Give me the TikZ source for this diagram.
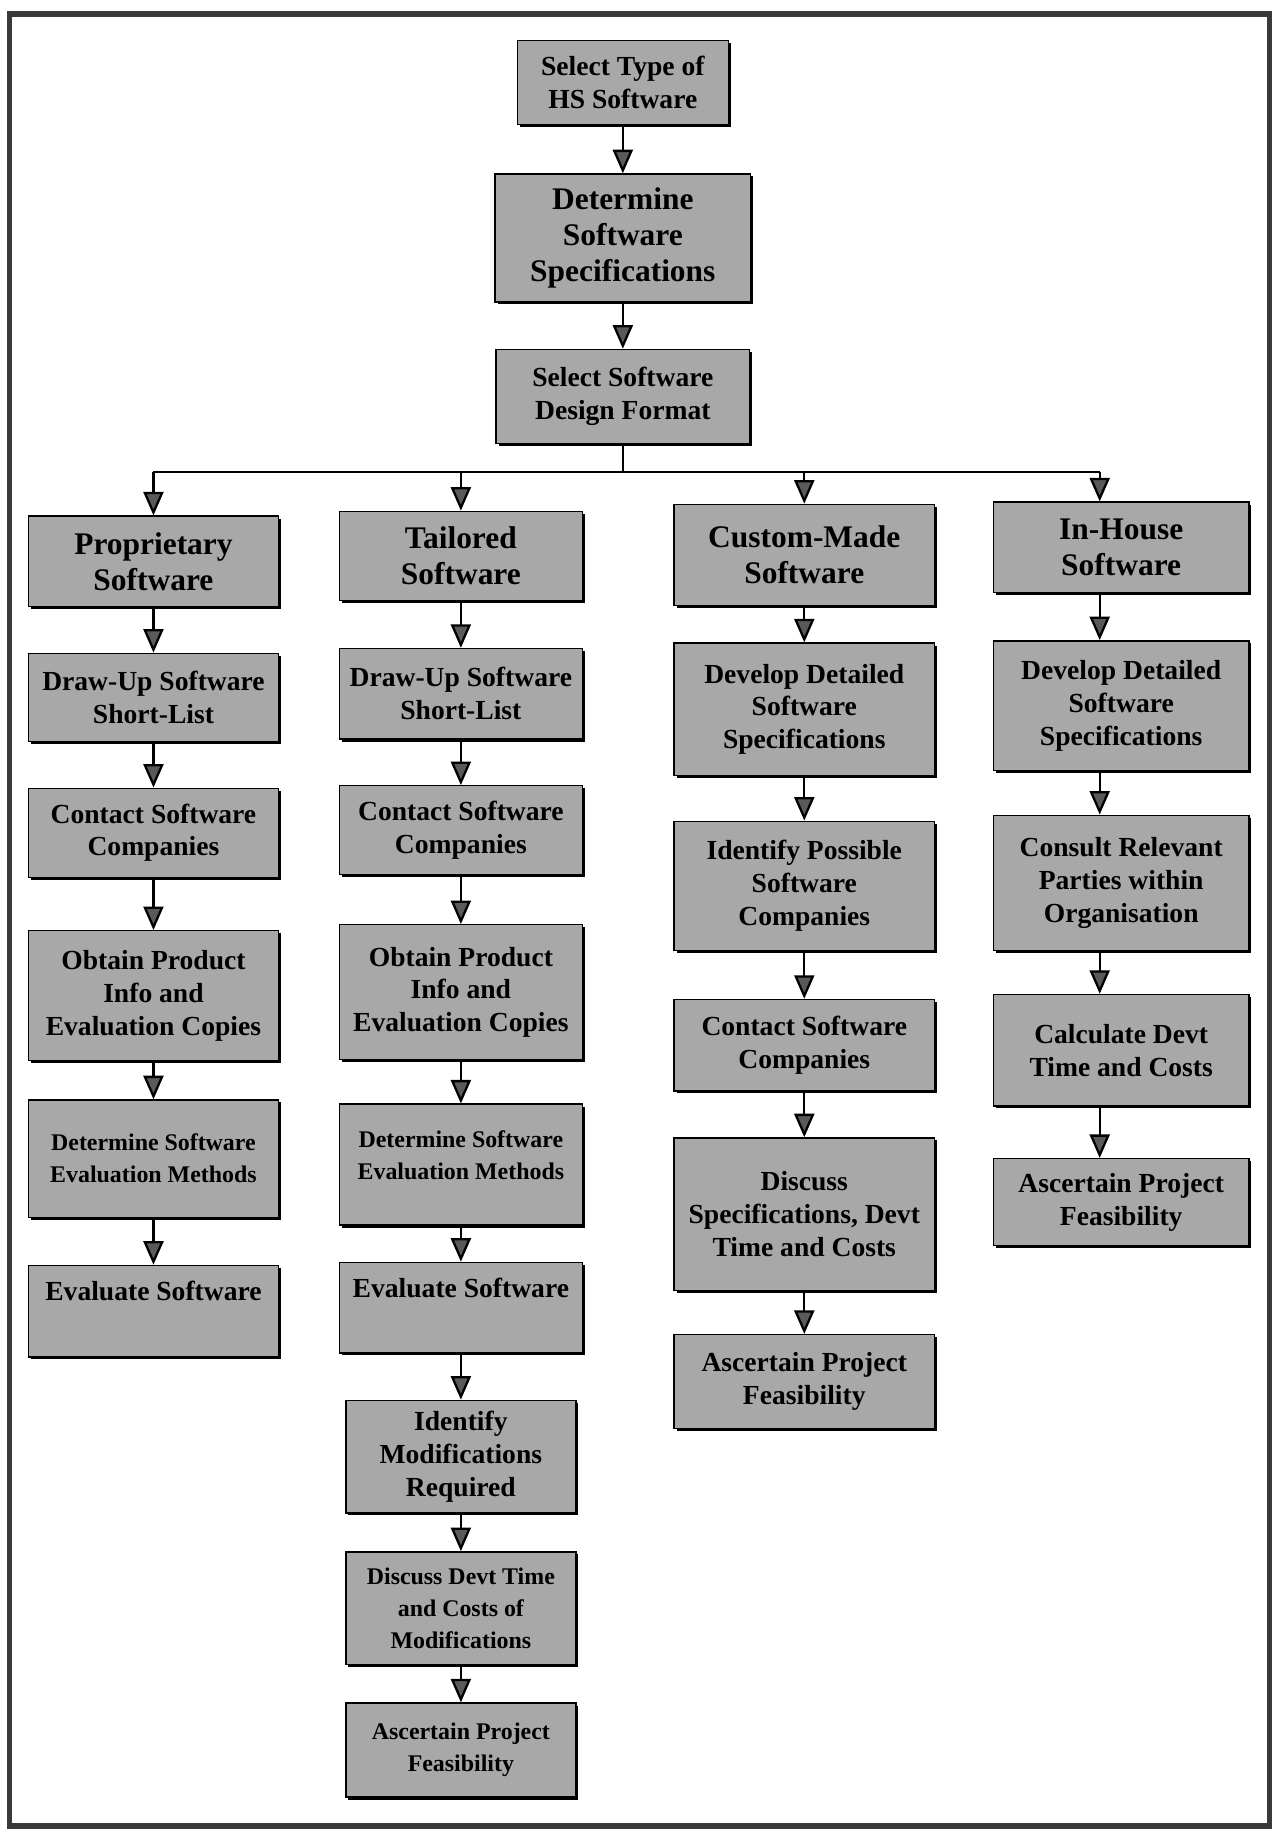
\documentclass[tikz,border=0pt]{standalone}
\usepackage{fontspec}
\setmainfont{Liberation Serif}
\usetikzlibrary{arrows.meta, shadows}
\definecolor{boxfill}{HTML}{A8A8A8}
\definecolor{arrowfill}{HTML}{5A5A5A}
\definecolor{framecolor}{HTML}{3A3A3A}

\begin{document}
\begin{tikzpicture}[
    box/.style={rectangle, draw=black, line width=0.8pt, fill=boxfill, align=center, inner sep=2pt,
        font=\bfseries\fontsize{15.7}{18.7}\selectfont,
        drop shadow={shadow xshift=0.05cm, shadow yshift=-0.05cm, fill=black, opacity=1}},
    head/.style={box, font=\bfseries\fontsize{17.9}{20.5}\selectfont},
    small/.style={box, font=\bfseries\fontsize{13.6}{18.2}\selectfont},
    arr/.style={-{Triangle[length=0.47cm, width=0.40cm, fill=arrowfill]}, line width=1.3pt, draw=black},
    link/.style={line width=1.3pt, draw=black},
]
\useasboundingbox (0,0) rectangle (25.62,36.79);

% ============================================================ page frame
\draw[framecolor, line width=3.2pt] (0.19,0.26) rectangle (25.40,36.51);

% ============================================================ common steps
\node[box, minimum width=4.22cm, minimum height=1.69cm] (sel) at (12.46, 35.14) {Select Type of\\HS Software};
\node[head, minimum width=5.11cm, minimum height=2.56cm] (spec) at (12.46, 32.03) {Determine\\Software\\Specifications};
\node[box, minimum width=5.07cm, minimum height=1.88cm] (fmt) at (12.46, 28.86) {Select Software\\Design Format};

\draw[arr] (sel.south) -- (spec.north);
\draw[arr] (spec.south) -- (fmt.north);

% ============================================================ proprietary
\node[head, minimum width=5.00cm, minimum height=1.81cm] (pr1) at (3.07, 25.56) {Proprietary\\Software};
\node[box, minimum width=5.00cm, minimum height=1.76cm] (pr2) at (3.07, 22.84) {Draw-Up Software\\Short-List};
\node[box, minimum width=5.00cm, minimum height=1.78cm] (pr3) at (3.07, 20.13) {Contact Software\\Companies};
\node[box, minimum width=5.00cm, minimum height=2.60cm] (pr4) at (3.07, 16.87) {Obtain Product\\Info and\\Evaluation Copies};
\node[small, minimum width=5.00cm, minimum height=2.35cm] (pr5) at (3.07, 13.61) {Determine Software\\Evaluation Methods};
\node[box, minimum width=5.00cm, minimum height=1.83cm] (pr6) at (3.07, 10.56) {Evaluate Software\\[0.14cm]\mbox{}};

% ============================================================ tailored
\node[head, minimum width=4.86cm, minimum height=1.78cm] (ta1) at (9.22, 25.67) {Tailored\\Software};
\node[box, minimum width=4.86cm, minimum height=1.81cm] (ta2) at (9.22, 22.91) {Draw-Up Software\\Short-List};
\node[box, minimum width=4.86cm, minimum height=1.78cm] (ta3) at (9.22, 20.18) {Contact Software\\Companies};
\node[box, minimum width=4.86cm, minimum height=2.70cm] (ta4) at (9.22, 16.94) {Obtain Product\\Info and\\Evaluation Copies};
\node[small, minimum width=4.86cm, minimum height=2.42cm] (ta5) at (9.22, 13.49) {Determine Software\\Evaluation Methods\\[-0.25cm]\mbox{}};
\node[box, minimum width=4.86cm, minimum height=1.81cm] (ta6) at (9.22, 10.63) {Evaluate Software\\[0.14cm]\mbox{}};
\node[box, minimum width=4.60cm, minimum height=2.25cm] (ta7) at (9.22, 7.65) {Identify\\Modifications\\Required};
\node[small, minimum width=4.60cm, minimum height=2.25cm] (ta8) at (9.22, 4.62) {Discuss Devt Time\\and Costs of\\Modifications};
\node[small, minimum width=4.60cm, minimum height=1.88cm] (ta9) at (9.22, 1.78) {Ascertain Project\\Feasibility};

% ============================================================ custom-made
\node[head, minimum width=5.21cm, minimum height=2.02cm] (cu1) at (16.09, 25.69) {Custom-Made\\Software};
\node[box, minimum width=5.21cm, minimum height=2.65cm] (cu2) at (16.09, 22.60) {Develop Detailed\\Software\\Specifications};
\node[box, minimum width=5.21cm, minimum height=2.58cm] (cu3) at (16.09, 19.07) {Identify Possible\\Software\\Companies};
\node[box, minimum width=5.21cm, minimum height=1.83cm] (cu4) at (16.09, 15.88) {Contact Software\\Companies};
\node[box, minimum width=5.21cm, minimum height=3.05cm] (cu5) at (16.09, 12.50) {Discuss\\Specifications, Devt\\Time and Costs};
\node[box, minimum width=5.21cm, minimum height=1.88cm] (cu6) at (16.09, 9.15) {Ascertain Project\\Feasibility};

% ============================================================ in-house
\node[head, minimum width=5.11cm, minimum height=1.81cm] (ih1) at (22.43, 25.84) {In-House\\Software};
\node[box, minimum width=5.11cm, minimum height=2.60cm] (ih2) at (22.43, 22.67) {Develop Detailed\\Software\\Specifications};
\node[box, minimum width=5.11cm, minimum height=2.70cm] (ih3) at (22.43, 19.13) {Consult Relevant\\Parties within\\Organisation};
\node[box, minimum width=5.11cm, minimum height=2.23cm] (ih4) at (22.43, 15.78) {Calculate Devt\\Time and Costs};
\node[box, minimum width=5.11cm, minimum height=1.74cm] (ih5) at (22.43, 12.74) {Ascertain Project\\Feasibility};

% ============================================================ split into the four kinds
\coordinate (split) at (12.46, 27.35);
\coordinate (ihx) at ([xshift=-0.43cm]ih1.north);
\draw[link] (fmt.south) -- (split);
\draw[link] (pr1.north |- split) -- (ihx |- split);
\foreach \h in {pr1, ta1, cu1}{
    \draw[arr] (\h.north |- split) -- (\h.north);
}
\draw[arr] (ihx |- split) -- (ihx);

% ============================================================ down each column
\foreach \a/\b in {pr1/pr2, pr2/pr3, pr3/pr4, pr4/pr5, pr5/pr6,
                   ta1/ta2, ta2/ta3, ta3/ta4, ta4/ta5, ta5/ta6, ta6/ta7, ta7/ta8, ta8/ta9,
                   cu1/cu2, cu2/cu3, cu3/cu4, cu4/cu5, cu5/cu6}{
    \draw[arr] (\a.south) -- (\b.north);
}
\foreach \a/\b in {ih1/ih2, ih2/ih3, ih3/ih4, ih4/ih5}{
    \draw[arr] ([xshift=-0.43cm]\a.south) -- ([xshift=-0.43cm]\b.north);
}

\end{tikzpicture}
\end{document}
